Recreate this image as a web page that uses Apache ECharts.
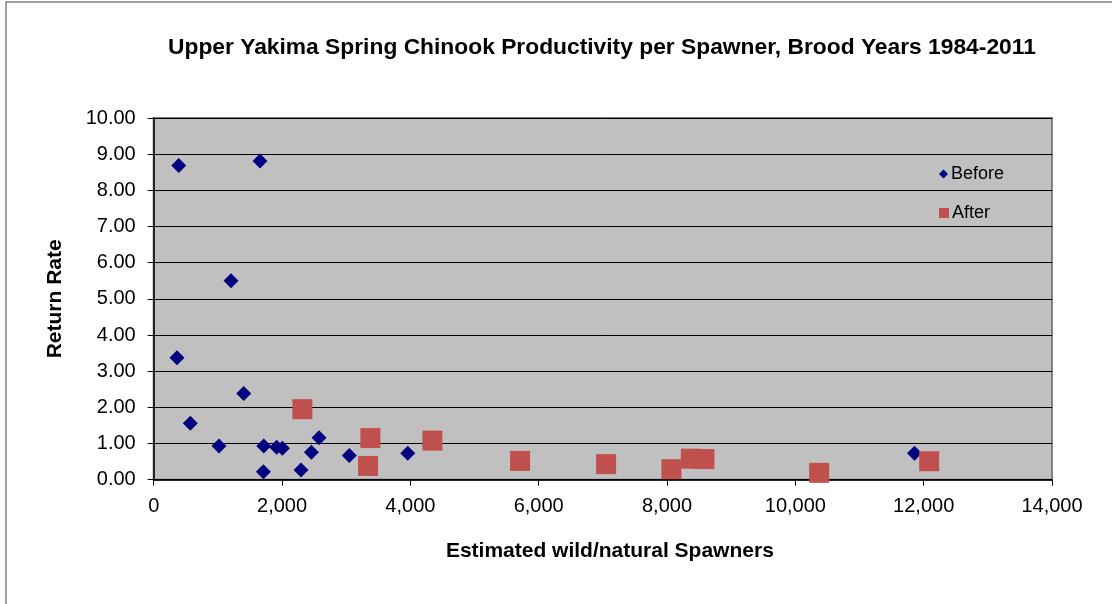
<!DOCTYPE html>
<html>
<head>
<meta charset="utf-8">
<style>
  html, body { margin: 0; padding: 0; background: #fff; }
  #chart { width: 1112px; height: 604px; }
</style>
<script src="https://cdn.jsdelivr.net/npm/echarts@6/dist/echarts.min.js"></script>
</head>
<body>
<div id="chart"></div>
<script>
// Brood years 1984-2011: spawner counts and returns per spawner
const beforeSpawners = [390, 1657, 1205, 363, 1403, 571, 1018, 1715, 1917, 2005, 1709, 2296, 2457, 2577, 3049, 3959, 11857];
const beforeReturn   = [8.69, 8.81, 5.50, 3.37, 2.38, 1.56, 0.93, 0.93, 0.90, 0.87, 0.22, 0.27, 0.76, 1.16, 0.67, 0.73, 0.73];

const afterSpawners = [2317, 3377, 3341, 4343, 5710, 7051, 8069, 8371, 8583, 10371, 12086];
const afterReturn   = [1.95, 1.15, 0.38, 1.08, 0.52, 0.43, 0.29, 0.58, 0.57, 0.19, 0.51];

const seriesNames = ['Before', 'After'];
const chartTitle = 'Upper Yakima Spring Chinook Productivity per Spawner, Brood Years 1984-2011';
const xTitle = 'Estimated wild/natural Spawners';
const yTitle = 'Return Rate';

const pairs = (xs, ys) => xs.map((x, i) => [x, ys[i]]);
const FONT = '"Liberation Sans", Arial, sans-serif';

const chart = echarts.init(document.getElementById('chart'), null, { renderer: 'canvas' });
chart.setOption({
  animation: false,
  backgroundColor: '#ffffff',
  textStyle: { fontFamily: FONT },
  graphic: [{
    type: 'rect',
    shape: { x: 6, y: 2, width: 1300, height: 800 },
    style: { fill: 'none', stroke: '#808080', lineWidth: 1.5 },
    silent: true
  }],
  title: {
    text: chartTitle,
    left: 163,
    top: 31,
    textStyle: { fontFamily: FONT, fontSize: 22.8, fontWeight: 'bold', color: '#000' }
  },
  legend: [{
    data: [seriesNames[0]],
    orient: 'vertical',
    left: 934,
    top: 160,
    itemWidth: 9,
    itemHeight: 9,
    itemGap: 4,
    textStyle: { fontFamily: FONT, fontSize: 18, color: '#000', padding: [0, 0, 0, -2] }
  }, {
    data: [seriesNames[1]],
    orient: 'vertical',
    left: 934,
    top: 199,
    itemWidth: 10,
    itemHeight: 10,
    textStyle: { fontFamily: FONT, fontSize: 18, color: '#000', padding: [0, 0, 0, -2] }
  }],
  grid: {
    left: 153.7,
    right: 60,
    top: 118,
    bottom: 124.3,
    show: true,
    backgroundColor: '#C0C0C0',
    borderColor: '#808080',
    borderWidth: 2
  },
  xAxis: {
    type: 'value',
    min: 0,
    max: 14000,
    interval: 2000,
    name: xTitle,
    nameLocation: 'middle',
    nameGap: 61,
    nameTextStyle: { fontFamily: FONT, fontSize: 21, fontWeight: 'bold', color: '#000', padding: [0, 0, 0, 14] },
    axisLine: { show: true, onZero: false, lineStyle: { color: '#000', width: 1.5 } },
    axisTick: { show: true, inside: false, length: 6, lineStyle: { color: '#000' } },
    axisLabel: {
      margin: 17,
      fontFamily: FONT,
      fontSize: 20,
      color: '#000',
      formatter: v => v.toLocaleString('en-US')
    },
    splitLine: { show: false }
  },
  yAxis: {
    type: 'value',
    min: 0,
    max: 10,
    interval: 1,
    name: yTitle,
    nameLocation: 'middle',
    nameGap: 88,
    nameTextStyle: { fontFamily: FONT, fontSize: 21, fontWeight: 'bold', color: '#000' },
    axisLine: { show: true, onZero: false, lineStyle: { color: '#000', width: 1.5 } },
    axisTick: { show: true, inside: false, length: 6, lineStyle: { color: '#000' } },
    axisLabel: {
      margin: 18,
      fontFamily: FONT,
      fontSize: 20,
      color: '#000',
      formatter: v => v.toFixed(2)
    },
    splitLine: { show: true, lineStyle: { color: '#000', width: 1 } }
  },
  series: [{
    name: seriesNames[0],
    type: 'scatter',
    symbol: 'diamond',
    symbolSize: 15,
    itemStyle: { color: '#000080', opacity: 1 },
    data: pairs(beforeSpawners, beforeReturn),
    z: 2
  }, {
    name: seriesNames[1],
    type: 'scatter',
    symbol: 'rect',
    symbolSize: 20,
    itemStyle: { color: '#C0504D', opacity: 1 },
    data: pairs(afterSpawners, afterReturn),
    z: 3
  }]
});
</script>
</body>
</html>
